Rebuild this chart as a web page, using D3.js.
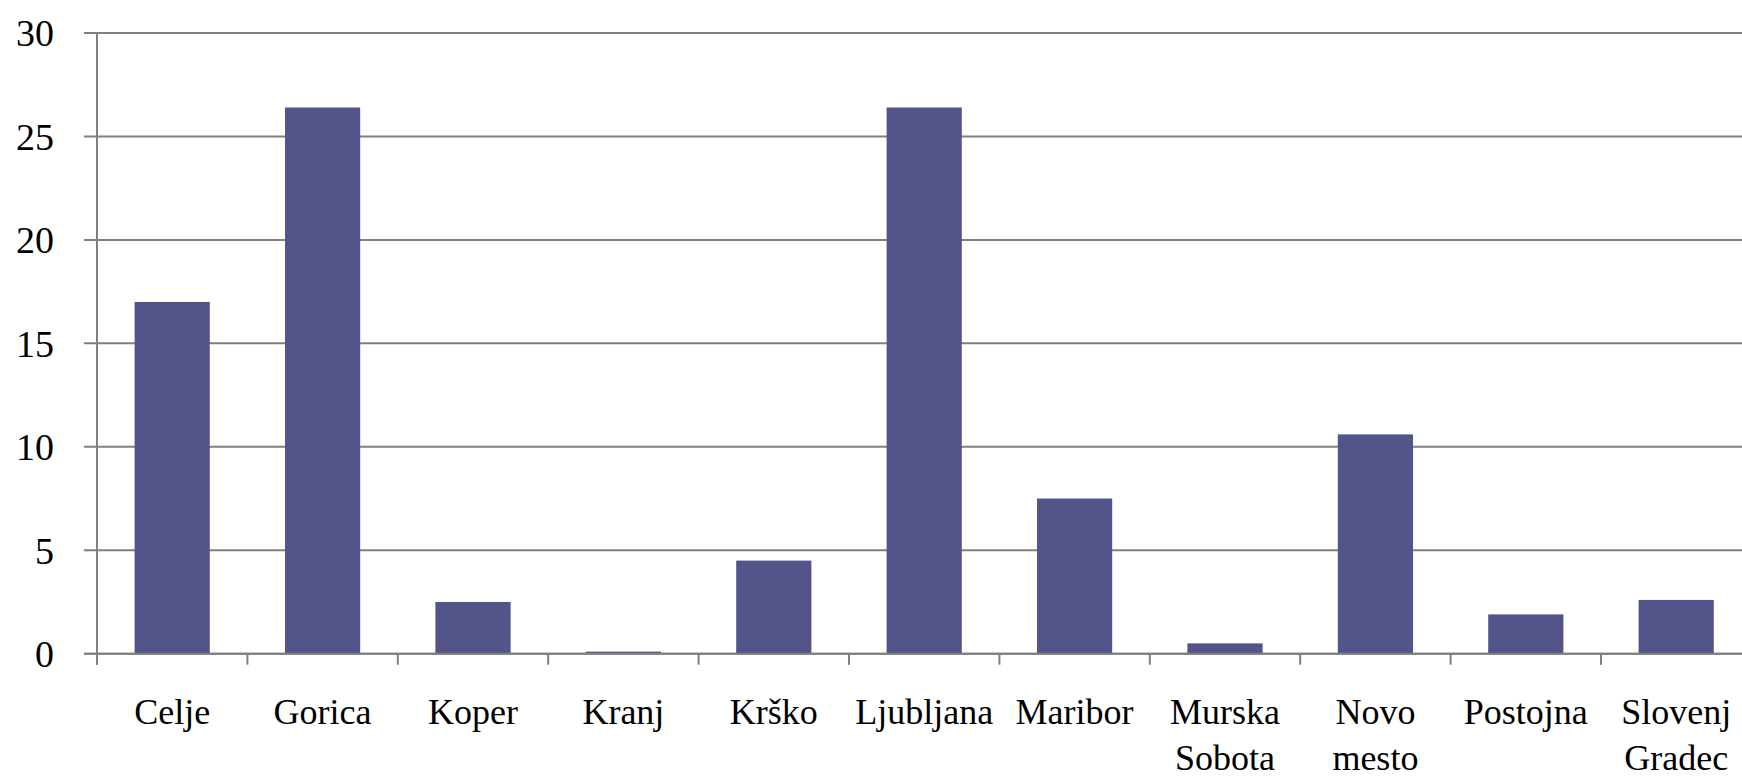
<!DOCTYPE html>
<html lang="sl">
<head>
<meta charset="UTF-8">
<title>Bar chart</title>
<script src="https://cdnjs.cloudflare.com/ajax/libs/d3/7.8.5/d3.min.js"></script>
<style>
  body { margin: 0; background: #fff; }
  svg { display: block; }
  svg text { font-family: "Liberation Serif", Tinos, "Times New Roman", "DejaVu Serif", serif; }
</style>
</head>
<body>
<div id="chart"></div>
<script>
const categories = ["Celje", "Gorica", "Koper", "Kranj", "Krško", "Ljubljana", "Maribor",
                    "Murska Sobota", "Novo mesto", "Postojna", "Slovenj Gradec"];
const values = [17, 26.4, 2.5, 0.1, 4.5, 26.4, 7.5, 0.5, 10.6, 1.9, 2.6];
const yTicks = [0, 5, 10, 15, 20, 25, 30];

const width = 1742, height = 779;
const plotLeft = 97, plotTop = 33, plotBottom = 653.7;
const step = 150.4;
const serif = "'Liberation Serif', Tinos, 'Times New Roman', 'DejaVu Serif', serif";

const svg = d3.select("#chart").append("svg")
    .attr("width", width)
    .attr("height", height);

const x = d3.scaleBand()
    .domain(categories)
    .range([plotLeft, plotLeft + step * categories.length])
    .paddingInner(0.5)
    .paddingOuter(0.25);

const y = d3.scaleLinear().domain([0, 30]).range([plotBottom, plotTop]);

// horizontal gridlines with left tick stubs
svg.append("g").selectAll("line")
    .data(yTicks)
    .join("line")
    .attr("x1", plotLeft - 13)
    .attr("x2", width)
    .attr("y1", d => y(d))
    .attr("y2", d => y(d))
    .attr("stroke", "#808080")
    .attr("stroke-width", 2);

// y labels
svg.append("g").selectAll("text")
    .data(yTicks)
    .join("text")
    .attr("x", 54)
    .attr("y", d => y(d))
    .attr("dy", "0.35em")
    .attr("text-anchor", "end")
    .attr("font-family", serif)
    .attr("font-size", 38)
    .attr("fill", "#000")
    .text(d => d);

// bars
svg.append("g").selectAll("rect")
    .data(values)
    .join("rect")
    .attr("x", (d, i) => x(categories[i]))
    .attr("width", x.bandwidth())
    .attr("y", d => y(d))
    .attr("height", d => y(0) - y(d))
    .attr("fill", "#53548a");

// y axis line
svg.append("line")
    .attr("x1", plotLeft).attr("x2", plotLeft)
    .attr("y1", plotTop).attr("y2", plotBottom + 11)
    .attr("stroke", "#808080")
    .attr("stroke-width", 2);

// x axis line and category ticks
svg.append("line")
    .attr("x1", plotLeft - 13).attr("x2", width)
    .attr("y1", plotBottom).attr("y2", plotBottom)
    .attr("stroke", "#808080")
    .attr("stroke-width", 2);

svg.append("g").selectAll("line")
    .data(categories)
    .join("line")
    .attr("x1", d => x(d) - x.step() * 0.25)
    .attr("x2", d => x(d) - x.step() * 0.25)
    .attr("y1", plotBottom)
    .attr("y2", plotBottom + 11)
    .attr("stroke", "#808080")
    .attr("stroke-width", 2);

// category labels (wrap on spaces)
const labels = svg.append("g").selectAll("text")
    .data(categories)
    .join("text")
    .attr("text-anchor", "middle")
    .attr("font-family", serif)
    .attr("font-size", 36)
    .attr("fill", "#000");

labels.each(function(d) {
    const t = d3.select(this);
    d.split(" ").forEach((w, k) => {
        t.append("tspan")
            .attr("x", x(d) + x.bandwidth() / 2)
            .attr("y", 724 + k * 46)
            .text(w);
    });
});
</script>
</body>
</html>
